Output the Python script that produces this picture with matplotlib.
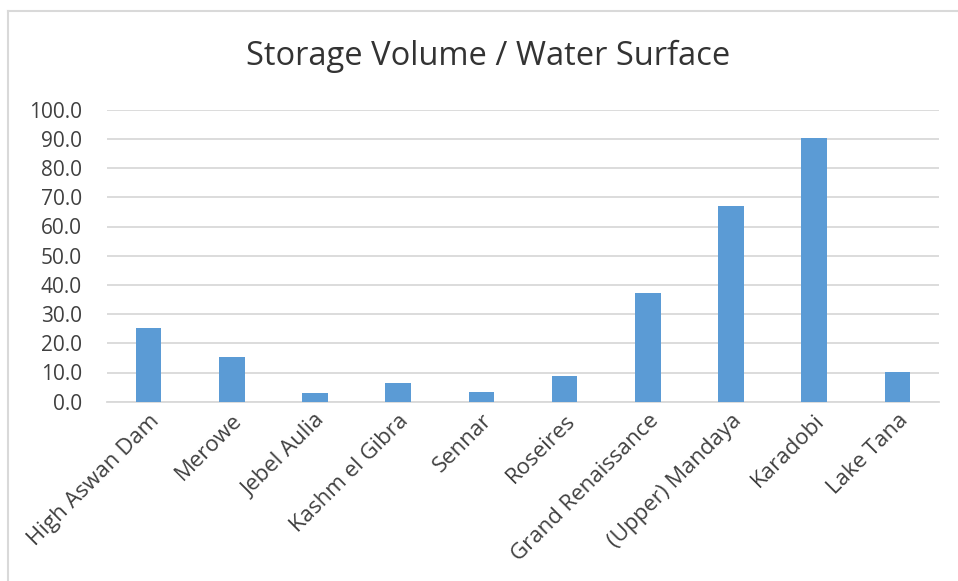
import matplotlib.pyplot as plt
from matplotlib.lines import Line2D
import numpy as np

# storage volume / water surface per dam
dams = ["High Aswan Dam", "Merowe", "Jebel Aulia", "Kashm el Gibra", "Sennar",
        "Roseires", "Grand Renaissance", "(Upper) Mandaya", "Karadobi", "Lake Tana"]
ratio = [25.1, 15.4, 2.85, 6.5, 3.2, 8.7, 37.1, 66.9, 90.3, 10.3]
yticks = np.arange(0, 101, 10)

plt.rcParams['font.family'] = ['Open Sans', 'DejaVu Sans']

fig = plt.figure(figsize=(9.58, 5.81), dpi=100)
ax = fig.add_axes([107/958, 1 - 401.7/581, (939 - 107)/958, (401.7 - 109.7)/581])

x = np.arange(len(dams))
ax.bar(x, ratio, width=0.31, color='#5b9bd5', zorder=3)

ax.set_xlim(-0.5, len(dams) - 0.5)
ax.set_ylim(0, 100)
ax.set_yticks(yticks)
ax.set_yticklabels(["%.1f" % v for v in yticks], fontsize=15, color='#404040')
ax.set_xticks(x)
ax.set_xticklabels(dams, rotation=45, ha='right', rotation_mode='anchor',
                   fontsize=16, color='#404040')
ax.tick_params(axis='both', length=0)
ax.tick_params(axis='y', pad=18)
ax.tick_params(axis='x', pad=6)

ax.grid(axis='y', color='#d9d9d9', linewidth=1.3, zorder=0)
for s in ['top', 'right', 'left']:
    ax.spines[s].set_visible(False)
ax.spines['bottom'].set_color('#d9d9d9')
ax.spines['bottom'].set_linewidth(1.3)

fig.text(488/958, 1 - 56/581, "Storage Volume / Water Surface", ha='center', va='center',
         fontsize=23.5, color='#333333')

# chart frame (top and left edges)
fig.add_artist(Line2D([8/958, 1], [1 - 11/581, 1 - 11/581], color='#d9d9d9', linewidth=1.5))
fig.add_artist(Line2D([8/958, 8/958], [0, 1 - 11/581], color='#d9d9d9', linewidth=1.5))

fig.savefig("out.png", dpi=100)
